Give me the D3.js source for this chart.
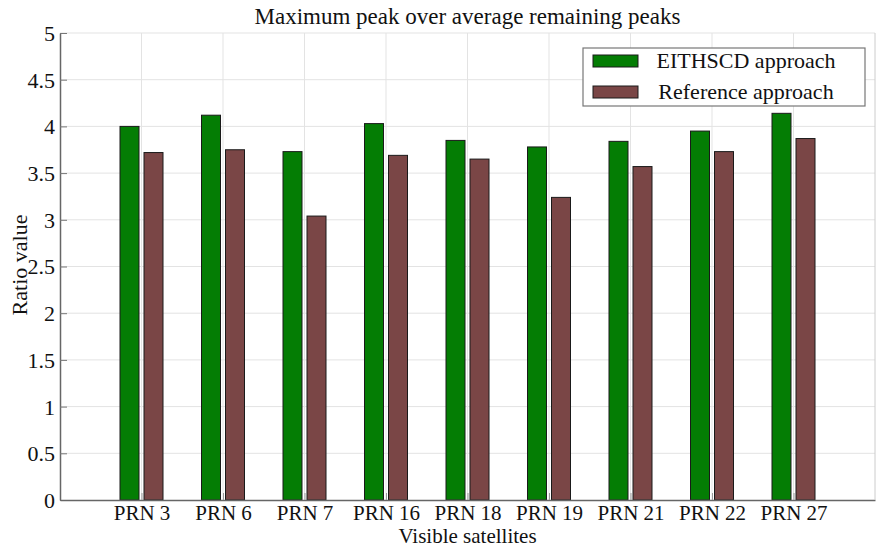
<!DOCTYPE html>
<html><head><meta charset="utf-8">
<script src="https://cdn.jsdelivr.net/npm/d3@7"></script>
<style>body{margin:0;background:#fff}svg{display:block}</style>
</head><body><div id="chart"></div>
<script>
const categories = ["PRN 3","PRN 6","PRN 7","PRN 16","PRN 18","PRN 19","PRN 21","PRN 22","PRN 27"];
const eithscd = [4.00, 4.12, 3.73, 4.03, 3.85, 3.78, 3.84, 3.95, 4.14];
const reference = [3.72, 3.75, 3.04, 3.69, 3.65, 3.24, 3.57, 3.73, 3.87];
const seriesNames = ["EITHSCD approach", "Reference approach"];
const yTicks = [0, 0.5, 1, 1.5, 2, 2.5, 3, 3.5, 4, 4.5, 5];
const colors = ["#047d04", "#7a4646"];

const W = 877, H = 549;
const FONT = "'Liberation Serif', 'Times New Roman', serif";
const svg = d3.select("#chart").append("svg").attr("width", W).attr("height", H)
  .style("font-family", FONT);

const L = 60, R = 875, T = 33, B = 500;
const x = d3.scaleLinear().domain([0, 10]).range([L, R]);
const y = d3.scaleLinear().domain([0, 5]).range([B, T]);
const idx = categories.map((c, i) => i + 1);

// grid
svg.append("g").selectAll("line.h").data(yTicks.slice(1)).join("line")
  .attr("x1", L).attr("x2", R).attr("y1", d => y(d)).attr("y2", d => y(d))
  .attr("stroke", "#e3e3e3").attr("stroke-width", 1);
svg.append("g").selectAll("line.v").data(idx).join("line")
  .attr("x1", d => x(d)).attr("x2", d => x(d)).attr("y1", T).attr("y2", B)
  .attr("stroke", "#e3e3e3").attr("stroke-width", 1);

// bars
const bw = 19, gap = 5;
const data = [eithscd, reference];
data.forEach((vals, s) => {
  svg.append("g").selectAll("rect").data(vals).join("rect")
    .attr("x", (d, i) => s === 0 ? x(i + 1) - gap / 2 - bw : x(i + 1) + gap / 2)
    .attr("y", d => y(d))
    .attr("width", bw)
    .attr("height", d => y(0) - y(d))
    .attr("fill", colors[s])
    .attr("stroke", "#1a1a1a").attr("stroke-width", 1);
});

// axes
const yAxis = d3.axisLeft(y).tickValues(yTicks).tickFormat(d3.format("~g")).tickSizeInner(-7).tickSizeOuter(0).tickPadding(5);
const gy = svg.append("g").attr("transform", `translate(${L},0)`).call(yAxis);
gy.select(".domain").attr("stroke", "#666").attr("stroke-width", 1.5);
gy.selectAll(".tick line").attr("stroke", "#777");
gy.selectAll("text").attr("font-size", 22).attr("fill", "#111").attr("font-family", FONT).attr("dy", "0.34em");

const xAxis = d3.axisBottom(x).tickValues(idx).tickFormat(d => categories[d - 1]).tickSizeInner(-7).tickSizeOuter(0).tickPadding(5);
const gx = svg.append("g").attr("transform", `translate(0,${B})`).call(xAxis);
gx.select(".domain").attr("stroke", "#666").attr("stroke-width", 1.5);
gx.selectAll(".tick line").attr("stroke", "#999");
gx.selectAll("text").attr("font-size", 21).attr("fill", "#111").attr("font-family", FONT);

// right border light
svg.append("line").attr("x1", R).attr("x2", R).attr("y1", T).attr("y2", B).attr("stroke", "#ccc");

// titles
svg.append("text").attr("x", (L + R) / 2).attr("y", 24).attr("text-anchor", "middle")
  .attr("font-size", 23).attr("fill", "#111").text("Maximum peak over average remaining peaks");
svg.append("text").attr("x", (L + R) / 2).attr("y", 543).attr("text-anchor", "middle")
  .attr("font-size", 21).attr("fill", "#111").text("Visible satellites");
svg.append("text").attr("transform", "translate(27,265) rotate(-90)").attr("text-anchor", "middle")
  .attr("font-size", 22).attr("fill", "#111").text("Ratio value");

// legend
const lg = svg.append("g");
lg.append("rect").attr("x", 583).attr("y", 48).attr("width", 282).attr("height", 58)
  .attr("fill", "#fff").attr("stroke", "#777").attr("stroke-width", 1.2);
seriesNames.forEach((n, i) => {
  const cy = 61 + i * 31;
  lg.append("rect").attr("x", 593).attr("y", cy - 6).attr("width", 45).attr("height", 12)
    .attr("fill", colors[i]).attr("stroke", "#1a1a1a").attr("stroke-width", 1);
  lg.append("text").attr("x", 746).attr("y", cy + 7).attr("text-anchor", "middle")
    .attr("font-size", 22).attr("fill", "#111").text(n);
});
</script></body></html>
